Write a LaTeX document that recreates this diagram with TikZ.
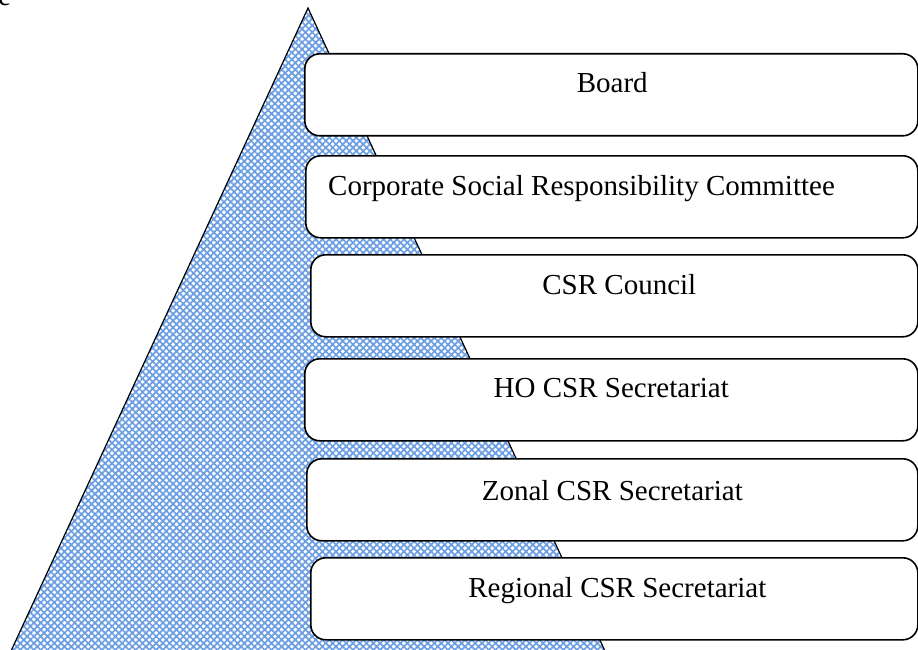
\documentclass[tikz,border=0pt]{standalone}
\usepackage{fontspec}
\setmainfont{Liberation Serif}
\usetikzlibrary{patterns.meta}
\definecolor{hatchblue}{RGB}{108,158,226}

\tikzset{
  tier/.style={draw, line width=1.6pt, rounded corners=15pt, fill=white,
    minimum height=82pt, inner sep=0pt, anchor=north west},
  tierlabel/.style={font=\fontsize{29}{34}\selectfont, inner sep=0pt, anchor=base}
}

\begin{document}
\begin{tikzpicture}[x=1pt,y=-1pt]
	\useasboundingbox (0,0) rectangle (918,650);
	\node[tierlabel, anchor=base west] (capt) at (-2,5.5) {e};
	% pyramid behind the levels
	\coordinate (tl) at (11,651);
	\coordinate (top) at (308,8);
	\coordinate (tr) at (605,651);
	\draw[line width=1.2pt, pattern={Hatch[angle=45,distance=4.8pt,line width=1.7pt]}, pattern color=hatchblue] (tl) -- (top) -- (tr);
	% the six levels
	\node[tier, minimum width=613pt] (board) at (304,53) {};
	\node[tier, minimum width=612pt] (committee) at (305,155) {};
	\node[tier, minimum width=607pt] (council) at (310,254) {};
	\node[tier, minimum width=613pt] (hosec) at (304,358) {};
	\node[tier, minimum width=611pt] (zonal) at (306,458) {};
	\node[tier, minimum width=607pt] (regional) at (310,557) {};
	\node[tierlabel] at ([xshift=1pt,yshift=-40pt]board.north) {Board};
	\node[tierlabel, anchor=base west] at ([xshift=23pt,yshift=-40pt]committee.north west) {Corporate Social Responsibility Committee};
	\node[tierlabel] at ([xshift=5pt,yshift=-40pt]council.north) {CSR Council};
	\node[tierlabel] at ([yshift=-39pt]hosec.north) {HO CSR Secretariat};
	\node[tierlabel] at ([yshift=-42pt]zonal.north) {Zonal CSR Secretariat};
	\node[tierlabel] at ([xshift=3pt,yshift=-40pt]regional.north) {Regional CSR Secretariat};
\end{tikzpicture}
\end{document}
